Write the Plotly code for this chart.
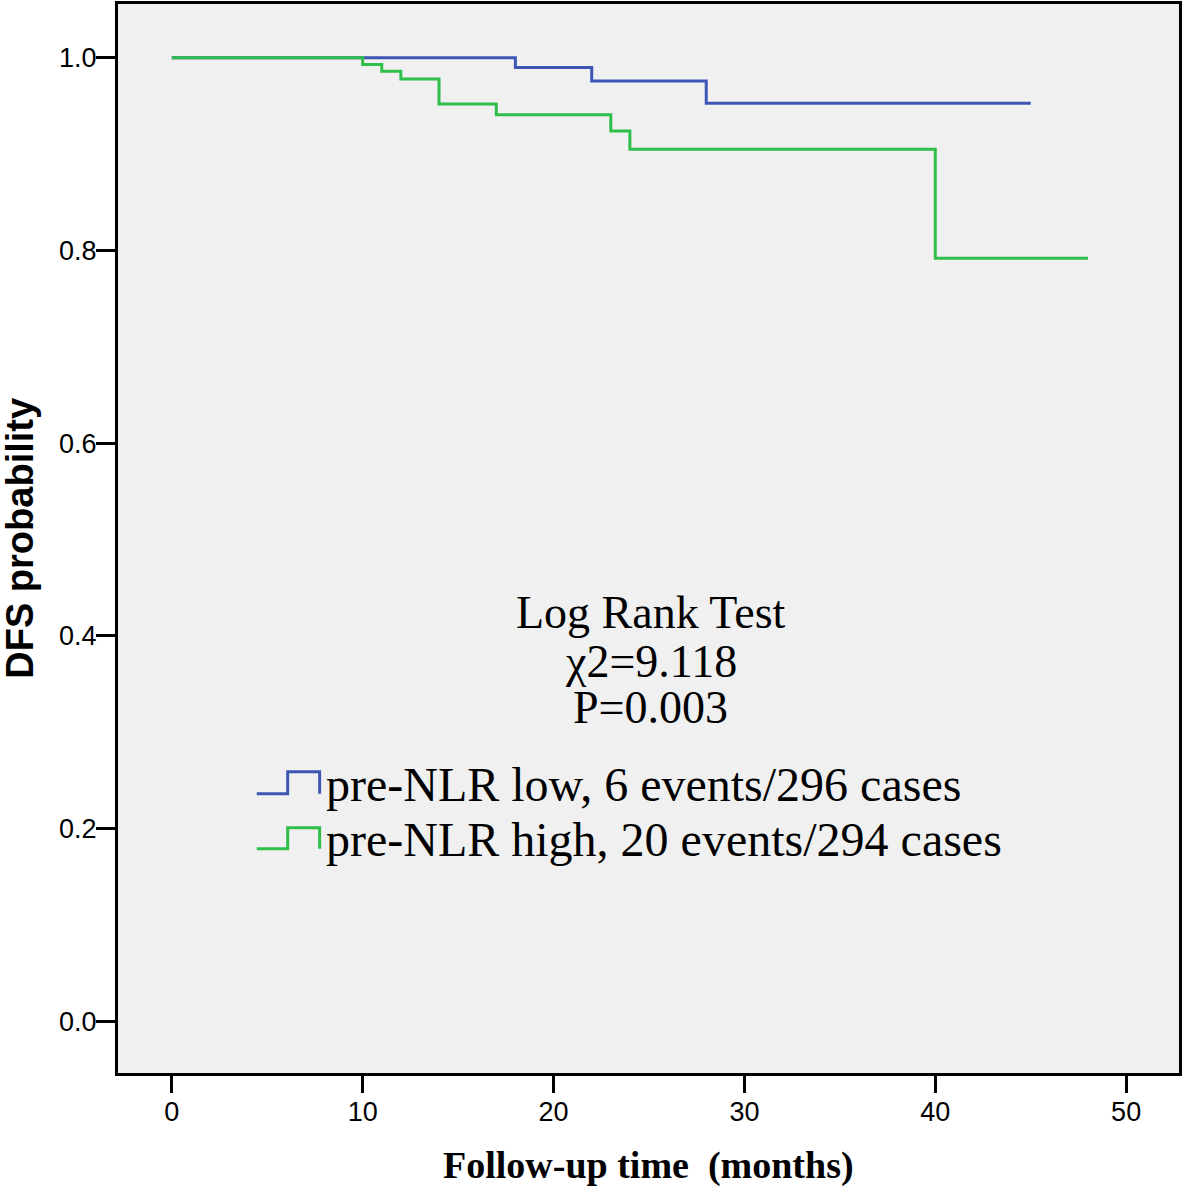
import plotly.graph_objects as go

# ---- data ----
low_time = [0, 18, 22, 28, 45]
low_surv = [1.0, 0.990, 0.976, 0.953, 0.953]
high_time = [0, 10, 11, 12, 14, 17, 23, 24, 40, 48]
high_surv = [1.0, 0.993, 0.986, 0.978, 0.952, 0.941, 0.924, 0.905, 0.792, 0.792]

x_ticks = [0, 10, 20, 30, 40, 50]
y_ticks = [0.0, 0.2, 0.4, 0.6, 0.8, 1.0]

series_names = ["pre-NLR low, 6 events/296 cases", "pre-NLR high, 20 events/294 cases"]
stat_lines = ["Log Rank Test", "χ2=9.118", "P=0.003"]

BLUE = "#3D56B5"
GREEN = "#2EBE4A"

W_PX, H_PX = 1183, 1189
L, R, T, B = 118, 1181, 1, 1073
PW, PH = R - L, B - T


def px(x):
    return (x - L) / PW


def py(y):
    return (B - y) / PH


fig = go.Figure()
fig.add_trace(go.Scatter(x=low_time, y=low_surv, mode="lines", line=dict(color=BLUE, width=3, shape="hv"),
                         name=series_names[0], showlegend=False, hoverinfo="skip"))
fig.add_trace(go.Scatter(x=high_time, y=high_surv, mode="lines", line=dict(color=GREEN, width=3, shape="hv"),
                         name=series_names[1], showlegend=False, hoverinfo="skip"))

serif = "Liberation Serif, Times New Roman, serif"
sans = "Liberation Sans, Arial, sans-serif"

annotations = []
# stats text
stat_baselines = [628, 677, 723]
fs_stat = 46
for txt, bl in zip(stat_lines, stat_baselines):
    annotations.append(dict(text=txt, xref="paper", yref="paper", x=px(652), y=py(bl - 0.36 * fs_stat),
                            xanchor="center", yanchor="middle", showarrow=False,
                            font=dict(family=serif, size=fs_stat, color="black")))
# legend text
leg_baselines = [800, 855]
fs_leg = 48
for txt, bl in zip(series_names, leg_baselines):
    annotations.append(dict(text=txt, xref="paper", yref="paper", x=px(324), y=py(bl - 0.33 * fs_leg),
                            xanchor="left", yanchor="middle", showarrow=False,
                            font=dict(family=serif, size=fs_leg, color="black")))
# axis titles
annotations.append(dict(text="<b>Follow-up time  (months)</b>", xref="paper", yref="paper", x=px(650), y=py(1166),
                        xanchor="center", yanchor="middle", showarrow=False,
                        font=dict(family=serif, size=38, color="black")))
annotations.append(dict(text="<b>DFS probability</b>", xref="paper", yref="paper", x=px(19), y=py(537),
                        xanchor="center", yanchor="middle", showarrow=False, textangle=-90,
                        font=dict(family=sans, size=38, color="black")))

# legend step icons
shapes = []
for col, base, top in [(BLUE, 793, 771), (GREEN, 848, 827)]:
    path = f"M {px(257)} {py(base)} L {px(288)} {py(base)} L {px(288)} {py(top)} L {px(320)} {py(top)} L {px(320)} {py(base)}"
    shapes.append(dict(type="path", xref="paper", yref="paper", path=path, line=dict(color=col, width=3)))

fig.update_layout(
    width=W_PX, height=H_PX,
    margin=dict(l=L, r=W_PX - R, t=T, b=H_PX - B),
    paper_bgcolor="white", plot_bgcolor="#F0F0F0",
    annotations=annotations, shapes=shapes,
    showlegend=False,
)
fig.update_xaxes(range=[-2.82, 52.77], tickvals=x_ticks, ticktext=[str(v) for v in x_ticks],
                 showgrid=False, zeroline=False, showline=True, linecolor="black", linewidth=3, mirror=True,
                 ticks="outside", ticklen=17, tickwidth=3, tickcolor="black",
                 tickfont=dict(family=sans, size=27, color="black"))
fig.update_yaxes(range=[-0.0538, 1.0559], tickvals=y_ticks, ticktext=[f"{v:.1f}" for v in y_ticks],
                 showgrid=False, zeroline=False, showline=True, linecolor="black", linewidth=3, mirror=True,
                 ticks="outside", ticklen=19, tickwidth=3, tickcolor="black",
                 tickfont=dict(family=sans, size=27, color="black"))
try:
    fig.update_yaxes(ticklabelstandoff=-6)
    fig.update_xaxes(ticklabelstandoff=-4)
except Exception:
    pass

fig.write_html("out.html", config={"displayModeBar": False},
               post_script="document.body.style.margin='0';document.body.style.padding='0';")
